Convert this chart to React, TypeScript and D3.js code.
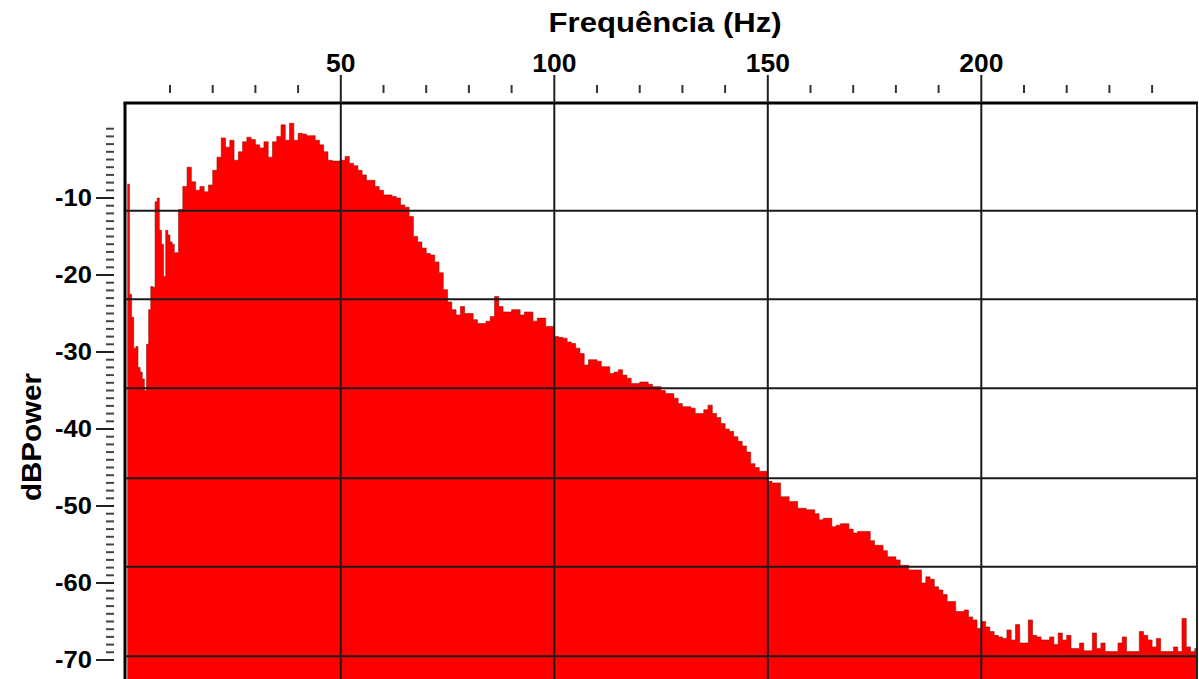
import React from 'react';
import * as d3 from 'd3';

// ---- data ----
// low band: 0.5 Hz bins starting at 0 Hz
const lowBandStart = 0;
const lowBandStep = 0.5;
const lowBandDb = [
  -8.2, -22.5, -25.5, -29.5, -29.3, -32.0, -32.6, -33.5, -35.0, -29.0,
  -24.5, -21.5, -21.6, -10.5, -10.0, -14.2, -16.0, -20.2, -14.2, -14.8,
  -15.7, -16.0, -17.1, -17.1,
];
// main band: 1 Hz bins starting at 12 Hz
const mainBandStart = 12;
const mainBandStep = 1;
const mainBandDb = [
  // 12-19
  -11.5, -8.5, -6.0, -7.9, -9.0, -8.5, -9.2, -8.3,
  // 20-29
  -6.4, -4.7, -2.2, -3.4, -2.5, -5.1, -4.0, -2.7, -2.1, -2.4,
  // 30-39
  -3.1, -3.5, -2.7, -4.7, -2.7, -2.0, -0.5, -2.5, -0.3, -2.5,
  // 40-49
  -1.6, -1.7, -1.9, -1.9, -2.5, -3.1, -4.0, -5.1, -5.2, -5.2,
  // 50-59
  -5.1, -4.6, -5.5, -5.8, -6.4, -7.0, -7.7, -7.7, -8.5, -9.0,
  // 60-69
  -9.6, -9.6, -9.8, -10.0, -10.9, -11.2, -12.4, -15.0, -15.7, -16.5,
  // 70-79
  -17.2, -17.4, -18.3, -19.7, -21.9, -23.5, -24.5, -25.2, -24.1, -25.0,
  // 80-89
  -25.0, -25.8, -26.3, -26.3, -26.0, -25.4, -22.8, -24.1, -24.8, -24.8,
  // 90-99
  -24.5, -24.5, -25.2, -24.8, -24.8, -26.0, -25.6, -25.6, -26.7, -26.7,
  // 100-109
  -28.0, -28.1, -28.2, -28.7, -28.9, -29.5, -30.2, -31.7, -31.0, -31.0,
  // 110-119
  -31.2, -31.9, -31.9, -32.8, -32.6, -32.3, -33.0, -33.4, -34.1, -34.1,
  // 120-129
  -33.9, -33.9, -34.2, -34.5, -34.5, -35.0, -35.4, -35.4, -36.0, -36.7,
  // 130-139
  -37.1, -37.1, -37.3, -38.0, -38.0, -37.5, -36.9, -38.0, -38.5, -39.3,
  // 140-149
  -40.0, -40.3, -41.0, -41.6, -42.2, -43.0, -44.5, -45.0, -45.5, -45.5,
  // 150-159
  -46.8, -47.0, -47.0, -48.8, -48.8, -49.4, -49.4, -50.3, -50.3, -50.5,
  // 160-169
  -50.5, -51.0, -51.8, -51.6, -51.6, -52.7, -52.5, -52.3, -52.3, -53.0,
  // 170-179
  -53.5, -53.3, -53.3, -53.3, -54.5, -55.1, -55.1, -55.8, -56.6, -56.6,
  // 180-189
  -57.0, -57.7, -57.7, -58.3, -58.3, -58.3, -60.0, -59.2, -59.5, -60.5,
  // 190-199
  -60.9, -61.5, -62.4, -62.4, -63.7, -63.7, -63.5, -64.4, -64.8, -65.9,
  // 200-209
  -65.0, -65.7, -66.3, -66.8, -67.0, -67.2, -66.1, -67.4, -65.4, -67.8,
  // 210-219
  -67.8, -64.8, -66.8, -67.0, -67.4, -67.4, -67.0, -68.0, -66.5, -67.4,
  // 220-229
  -66.8, -68.5, -68.5, -67.8, -68.8, -68.8, -66.5, -68.5, -67.8, -68.9,
  // 230-239
  -68.9, -68.9, -67.8, -67.0, -68.9, -68.9, -68.9, -66.3, -66.8, -67.4,
  // 240-250
  -68.3, -67.2, -68.9, -68.9, -68.9, -68.3, -68.9, -64.6, -68.3, -68.9, -68.5,
];

const xMajorTicks = [50, 100, 150, 200];
const xMinorTicks = [10, 20, 30, 40, 60, 70, 80, 90, 110, 120, 130, 140, 160, 170, 180, 190, 210, 220, 230, 240];
const yMajorTicks = [-10, -20, -30, -40, -50, -60, -70];
const gridDb = [-11.65, -23.15, -34.7, -46.4, -57.9, -69.5];

const title = 'Frequência (Hz)';
const yTitle = 'dBPower';

const W = 1199;
const H = 679;
const FONT = '"Liberation Sans", Arial, Helvetica, sans-serif';

export default function App() {
  const x = d3.scaleLinear().domain([0, 250]).range([127.3, 1194.8]);
  const y = d3.scaleLinear().domain([0, -70]).range([121, 660]);

  const frameLeft = 125;
  const frameRight = 1197;
  const frameTop = 103;
  const frameBottom = 720;

  type Pt = { f: number; db: number };
  const pts: Pt[] = [
    ...lowBandDb.map((db, i) => ({ f: lowBandStart + i * lowBandStep, db })),
    ...mainBandDb.map((db, i) => ({ f: mainBandStart + i * mainBandStep, db })),
  ];
  const last = pts[pts.length - 1];
  pts.push({ f: last.f + mainBandStep, db: last.db });

  const area = d3
    .area<Pt>()
    .x((d) => x(d.f))
    .y0(y(-80))
    .y1((d) => y(d.db))
    .curve(d3.curveStepAfter);
  const line = d3
    .line<Pt>()
    .x((d) => x(d.f))
    .y((d) => y(d.db))
    .curve(d3.curveStepAfter);

  const yMinor = d3.range(-1, -71, -1).filter((v) => v % 10 !== 0);

  return (
    <svg
      width={W}
      height={H}
      style={{ position: 'absolute', left: 0, top: 0, background: '#fff' }}
      fontFamily={FONT}
    >
      <defs>
        <clipPath id="plotClip">
          <rect x={frameLeft} y={frameTop} width={frameRight - frameLeft} height={frameBottom - frameTop} />
        </clipPath>
      </defs>

      {/* spectrum */}
      <g clipPath="url(#plotClip)">
        <path d={area(pts) || ''} fill="#ff0000" />
        <path d={line(pts) || ''} fill="none" stroke="#8a1000" strokeWidth={0.8} strokeOpacity={0.7} />
        {/* horizontal grid */}
        {gridDb.map((g) => (
          <line key={'hg' + g} x1={frameLeft} x2={frameRight} y1={y(g)} y2={y(g)} stroke="#1a1a1a" strokeWidth={2} />
        ))}
        {/* vertical grid */}
        {xMajorTicks.map((t) => (
          <line key={'vg' + t} x1={x(t)} x2={x(t)} y1={frameTop} y2={frameBottom} stroke="#1a1a1a" strokeWidth={2} />
        ))}
      </g>

      {/* frame */}
      <line x1={frameLeft - 1.5} x2={frameRight + 1} y1={frameTop} y2={frameTop} stroke="#000" strokeWidth={3} />
      <line x1={frameLeft} x2={frameLeft} y1={frameTop} y2={frameBottom} stroke="#000" strokeWidth={3} />
      <line x1={frameRight} x2={frameRight} y1={frameTop} y2={frameBottom} stroke="#222" strokeWidth={2} />

      {/* top axis ticks */}
      {xMajorTicks.map((t) => (
        <line key={'xt' + t} x1={x(t)} x2={x(t)} y1={75} y2={frameTop} stroke="#222" strokeWidth={2} />
      ))}
      {xMinorTicks.map((t) => (
        <line key={'xm' + t} x1={x(t)} x2={x(t)} y1={85} y2={93} stroke="#333" strokeWidth={2} />
      ))}
      {xMajorTicks.map((t) => {
        const s = String(t);
        return (
          <text
            key={'xl' + t}
            x={x(t)}
            y={72}
            textAnchor="middle"
            fontSize={26}
            fontWeight="bold"
            textLength={14.7 * s.length}
            lengthAdjust="spacingAndGlyphs"
            fill="#000"
          >
            {s}
          </text>
        );
      })}

      {/* left axis ticks */}
      {yMinor.map((v) => (
        <line key={'ym' + v} x1={106} x2={114} y1={y(v)} y2={y(v)} stroke="#444" strokeWidth={2} />
      ))}
      {yMajorTicks.map((v) => (
        <line key={'yt' + v} x1={96} x2={114} y1={y(v)} y2={y(v)} stroke="#222" strokeWidth={2} />
      ))}
      {yMajorTicks.map((v) => {
        const s = String(v);
        return (
          <text
            key={'yl' + v}
            x={92}
            y={y(v)}
            dy="0.36em"
            textAnchor="end"
            fontSize={23}
            fontWeight="bold"
            textLength={12.3 * s.length}
            lengthAdjust="spacingAndGlyphs"
            fill="#000"
          >
            {s}
          </text>
        );
      })}

      {/* titles */}
      <text
        x={548.6}
        y={32}
        fontSize={28}
        fontWeight="bold"
        textLength={233}
        lengthAdjust="spacingAndGlyphs"
        fill="#000"
      >
        {title}
      </text>
      <text
        transform={`translate(41,437) rotate(-90)`}
        textAnchor="middle"
        fontSize={28}
        fontWeight="bold"
        textLength={128}
        lengthAdjust="spacingAndGlyphs"
        fill="#000"
      >
        {yTitle}
      </text>
    </svg>
  );
}
